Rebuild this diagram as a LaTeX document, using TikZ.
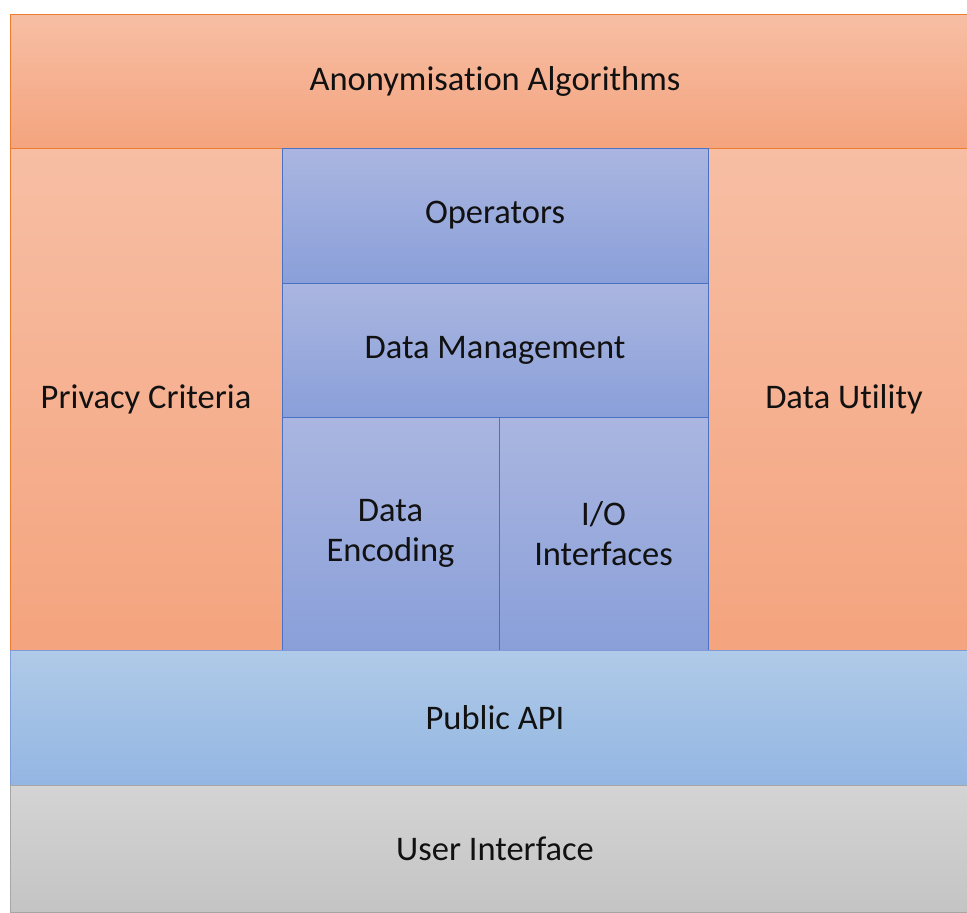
\documentclass[tikz,border=0pt]{standalone}
\usepackage{fontspec}
\setmainfont{Carlito}[Ligatures=NoCommon]
\usetikzlibrary{positioning}
\definecolor{orangeTop}{HTML}{F7BEA4}
\definecolor{orangeBot}{HTML}{F4A47E}
\definecolor{orangeLine}{HTML}{ED7D31}
\definecolor{blueTop}{HTML}{AAB6E0}
\definecolor{blueBot}{HTML}{8A9FD9}
\definecolor{blueLine}{HTML}{4A72C4}
\definecolor{apiTop}{HTML}{B0CAE8}
\definecolor{apiBot}{HTML}{93B6E2}
\definecolor{greyTop}{HTML}{D4D4D4}
\definecolor{greyBot}{HTML}{C4C4C4}
\definecolor{txt}{HTML}{111111}
\tikzstyle{layer} = [rectangle,
anchor=north west,
inner sep=0pt,
outer sep=0pt,
line width=0.8pt,
text centered,
align=center,
text=txt,
font=\fontsize{34.5}{40}\selectfont]
\tikzstyle{orangebox} = [layer,
draw=orangeLine,
top color=orangeTop,
bottom color=orangeBot]
\tikzstyle{bluebox} = [layer,
draw=blueLine,
top color=blueTop,
bottom color=blueBot]
\tikzstyle{apibox} = [layer,
draw=blueLine!70,
top color=apiTop,
bottom color=apiBot]
\tikzstyle{greybox} = [layer,
draw=gray!70,
top color=greyTop,
bottom color=greyBot]
\begin{document}
\begin{tikzpicture}[x=1pt, y=-1pt]
\useasboundingbox [fill=white] (0,0) rectangle (967,913);

% the layers run a little past the right edge of the page
\node (algo) [orangebox, minimum width=970pt, minimum height=134pt] at (10,14) {Anonymisation Algorithms};
\node (privacy) [orangebox, minimum width=272pt, minimum height=502pt] at (algo.south west) {Privacy Criteria};
\node (utility) [orangebox, minimum width=272pt, minimum height=502pt, anchor=north east] at (algo.south east) {Data Utility};

\node (ops) [bluebox, minimum width=426pt, minimum height=135pt] at (privacy.north east) {Operators};
\node (mgmt) [bluebox, minimum width=426pt, minimum height=134pt] at (ops.south west) {Data Management};
\node (enc) [bluebox, minimum width=217pt, minimum height=233pt] at (mgmt.south west) {Data\\Encoding};
\node (io) [bluebox, minimum width=209pt, minimum height=233pt] at (enc.north east) {I/O\\Interfaces};

\node (api) [apibox, minimum width=970pt, minimum height=135pt] at (privacy.south west) {Public API};
\node (ui) [greybox, minimum width=970pt, minimum height=127pt] at (api.south west) {User Interface};

\end{tikzpicture}
\end{document}
